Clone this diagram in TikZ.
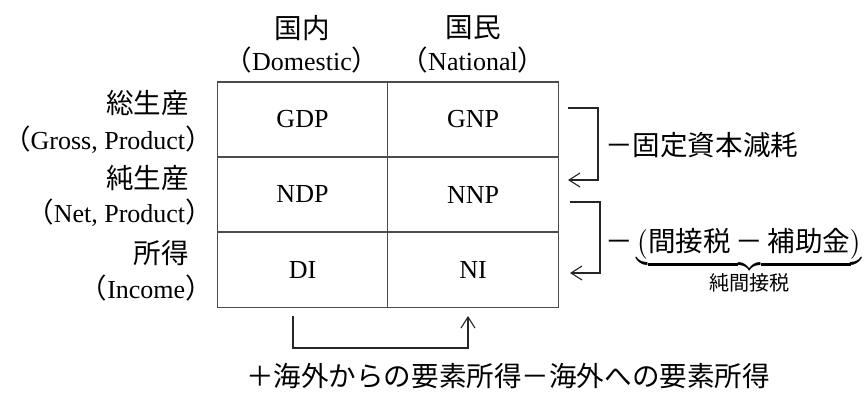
\documentclass[tikz,border=0pt]{standalone}
\usepackage{amsmath}
\usepackage{fontspec}
\setmainfont{Liberation Serif}
\newfontfamily\jp[Scale=1.06]{Noto Sans CJK JP}
\usetikzlibrary{arrows.meta}

\newcommand{\jpar}[1]{{\jp （}#1{\jp ）}}

\begin{document}
\begin{tikzpicture}[x=1pt, y=-1pt,
    every node/.style={font=\fontsize{26}{30}\selectfont, inner sep=0pt},
    cell/.style={draw=black!70, line width=1.3pt, minimum width=170.5pt, minimum height=75pt},
    conn/.style={draw=black!85, line width=1.2pt},
    tip/.style={-{Straight Barb[length=11pt, width=14pt, line width=1.1pt]}}]
    \useasboundingbox (0,0) rectangle (866,392);

    % Table
    \node[cell] (gdp) at (302.5,119.5) {GDP};
    \node[cell] (gnp) at (473,119.5) {GNP};
    \node[cell] (ndp) at (302.5,194.5) {NDP};
    \node[cell] (nnp) at (473,194.5) {NNP};
    \node[cell] (di)  at (302.5,270) {DI};
    \node[cell] (ni)  at (473,270) {NI};

    % Column heads
    \node (dom)   at (302,28) {\jp 国内};
    \node (domen) at (302,60) {\jpar{Domestic}};
    \node (nat)   at (473,28) {\jp 国民};
    \node (naten) at (473,60) {\jpar{National}};

    % Row heads
    \node[anchor=east] (gross)   at (189,103) {\jp 総生産};
    \node[anchor=east] (grossen) at (213,140) {\jpar{Gross, Product}};
    \node[anchor=east] (net)     at (189,178) {\jp 純生産};
    \node[anchor=east] (neten)   at (213,213) {\jpar{Net, Product}};
    \node[anchor=east] (inc)     at (189,253) {\jp 所得};
    \node[anchor=east] (incen)   at (213,288) {\jpar{Income}};

    % Brackets
    \coordinate (b1a) at (568,108);
    \coordinate (b1b) at (568,180);
    \draw[conn, tip] (b1a) -- ++(30,0) |- (b1b);
    \coordinate (b2a) at (570,202);
    \coordinate (b2b) at (570,273);
    \draw[conn, tip] (b2a) -- ++(30,0) |- (b2b);
    \coordinate (b3a) at (293,316);
    \coordinate (b3b) at (468,316);
    \draw[conn, tip] (b3a) -- ++(0,32) -| (b3b);

    % Labels
    \node[anchor=west] (dep) at (605,145) {\jp －固定資本減耗};
    \node[anchor=base west] (tax) at (605,251)
        {$\text{\jp －}\underbrace{\bigl(\text{\jp 間接税\,－\,補助金}\bigr)\rule[-9pt]{0pt}{9pt}}_{\text{\fontsize{19}{22}\selectfont\jp 純間接税}}$};
    \node (abroad) at (508,376) {\jp ＋海外からの要素所得－海外への要素所得};
\end{tikzpicture}
\end{document}
